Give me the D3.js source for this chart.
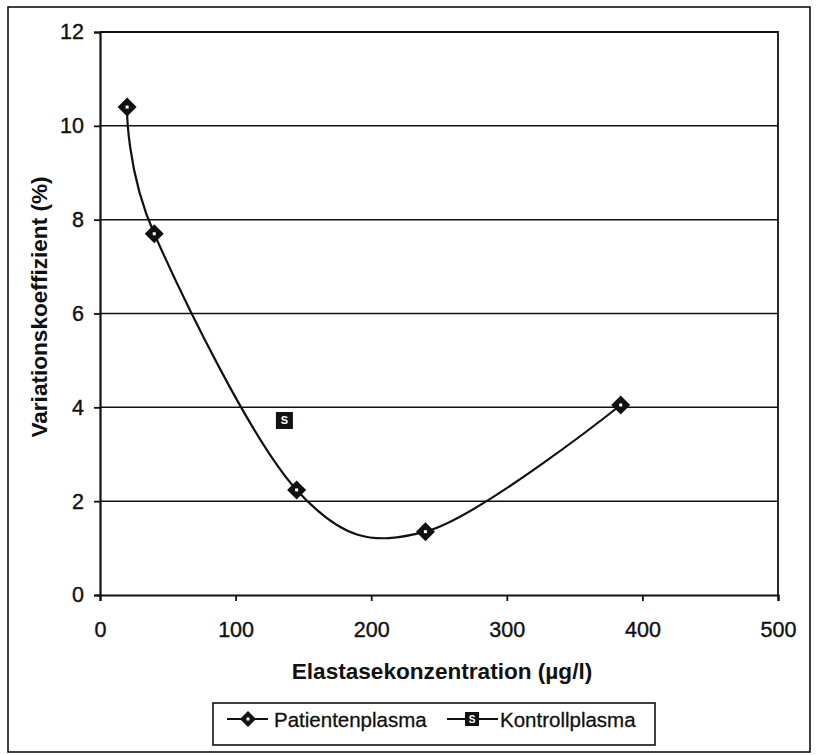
<!DOCTYPE html>
<html><head><meta charset="utf-8">
<script src="https://cdn.jsdelivr.net/npm/d3@7"></script>
<style>body{margin:0;background:#fff}svg{display:block}</style>
</head><body>
<script>
const patientX = [20, 40, 145, 240, 384];
const patientY = [10.4, 7.7, 2.24, 1.35, 4.05];
const controlX = [136];
const controlY = [3.72];
const xTicks = [0, 100, 200, 300, 400, 500];
const yTicks = [0, 2, 4, 6, 8, 10, 12];
const seriesNames = ["Patientenplasma", "Kontrollplasma"];

const W = 817, H = 755;
const svg = d3.select("body").append("svg").attr("width", W).attr("height", H);
const font = "'Liberation Sans', Arial, sans-serif";

// outer frame
svg.append("rect").attr("x", 8).attr("y", 7).attr("width", 802).attr("height", 745)
  .attr("fill", "none").attr("stroke", "#111").attr("stroke-width", 1.6);

const L = 100, R = 778, T = 32, B = 595;
const x = d3.scaleLinear().domain([0, 500]).range([L, R]);
const y = d3.scaleLinear().domain([0, 12]).range([B, T]);

// gridlines
svg.append("g").selectAll("line").data(yTicks.filter(d => d > 0 && d < 12)).join("line")
  .attr("x1", L).attr("x2", R).attr("y1", d => y(d)).attr("y2", d => y(d))
  .attr("stroke", "#111").attr("stroke-width", 1.5);

// plot border top/right
svg.append("path").attr("d", `M${L},${T}H${R}V${B}`).attr("fill", "none").attr("stroke", "#111").attr("stroke-width", 1.8);

const xAxis = svg.append("g").attr("transform", `translate(0,${B})`)
  .call(d3.axisBottom(x).tickValues(xTicks).tickSize(6).tickPadding(21));
const yAxis = svg.append("g").attr("transform", `translate(${L},0)`)
  .call(d3.axisLeft(y).tickValues(yTicks).tickSize(6).tickPadding(10));
[xAxis, yAxis].forEach(g => {
  g.select(".domain").attr("stroke", "#111").attr("stroke-width", 2.2);
  g.selectAll(".tick line").attr("stroke", "#111").attr("stroke-width", 1.8);
  g.selectAll("text").attr("font-family", font).attr("font-size", 21.5).attr("fill", "#111")
    .attr("stroke", "#111").attr("stroke-width", 0.4);
});

// axis titles
svg.append("text").attr("x", 442).attr("y", 679).attr("text-anchor", "middle")
  .attr("font-family", font).attr("font-weight", "bold").attr("font-size", 22.6).attr("fill", "#111")
  .text("Elastasekonzentration (µg/l)");
svg.append("text").attr("transform", `translate(47,${307}) rotate(-90)`).attr("text-anchor", "middle")
  .attr("font-family", font).attr("font-weight", "bold").attr("font-size", 22.6).attr("fill", "#111")
  .text("Variationskoeffizient (%)");

// curve
const pts = patientX.map((d, i) => [d, patientY[i]]);
const line = d3.line().x(d => x(d[0])).y(d => y(d[1])).curve(d3.curveCatmullRom.alpha(0));
svg.append("path").attr("d", line(pts)).attr("fill", "none").attr("stroke", "#111").attr("stroke-width", 2.2);

function diamond(g, cx, cy, s) {
  g.append("path").attr("d", `M${cx},${cy - s}L${cx + s},${cy}L${cx},${cy + s}L${cx - s},${cy}Z`).attr("fill", "#111");
  g.append("rect").attr("x", cx - 1.5).attr("y", cy - 1.5).attr("width", 3).attr("height", 3).attr("fill", "#fff");
}
function square(g, cx, cy, s, fs) {
  g.append("rect").attr("x", cx - s).attr("y", cy - s).attr("width", 2 * s).attr("height", 2 * s).attr("fill", "#111");
  g.append("text").attr("x", cx).attr("y", cy + fs * 0.36).attr("text-anchor", "middle")
    .attr("font-family", font).attr("font-size", fs).attr("font-weight", "bold").attr("fill", "#fff").text("S");
}
const mk = svg.append("g");
pts.forEach(p => diamond(mk, x(p[0]), y(p[1]), 9.5));
controlX.forEach((d, i) => square(mk, x(d), y(controlY[i]), 8.5, 11));

// legend
const lg = svg.append("g");
lg.append("rect").attr("x", 213).attr("y", 703).attr("width", 442).attr("height", 42)
  .attr("fill", "#fff").attr("stroke", "#111").attr("stroke-width", 1.6);
const ly = 719;
lg.append("line").attr("x1", 227).attr("x2", 268).attr("y1", ly).attr("y2", ly).attr("stroke", "#111").attr("stroke-width", 2.2);
diamond(lg, 248, ly, 8);
lg.append("text").attr("x", 274).attr("y", ly + 7.5).attr("font-family", font).attr("font-size", 20.5).attr("fill", "#111")
  .attr("stroke", "#111").attr("stroke-width", 0.3).text(seriesNames[0]);
lg.append("line").attr("x1", 447).attr("x2", 498).attr("y1", ly).attr("y2", ly).attr("stroke", "#111").attr("stroke-width", 2.2);
square(lg, 472, ly, 7, 10);
lg.append("text").attr("x", 500).attr("y", ly + 7.5).attr("font-family", font).attr("font-size", 20.5).attr("fill", "#111")
  .attr("stroke", "#111").attr("stroke-width", 0.3).text(seriesNames[1]);
</script>
</body></html>
